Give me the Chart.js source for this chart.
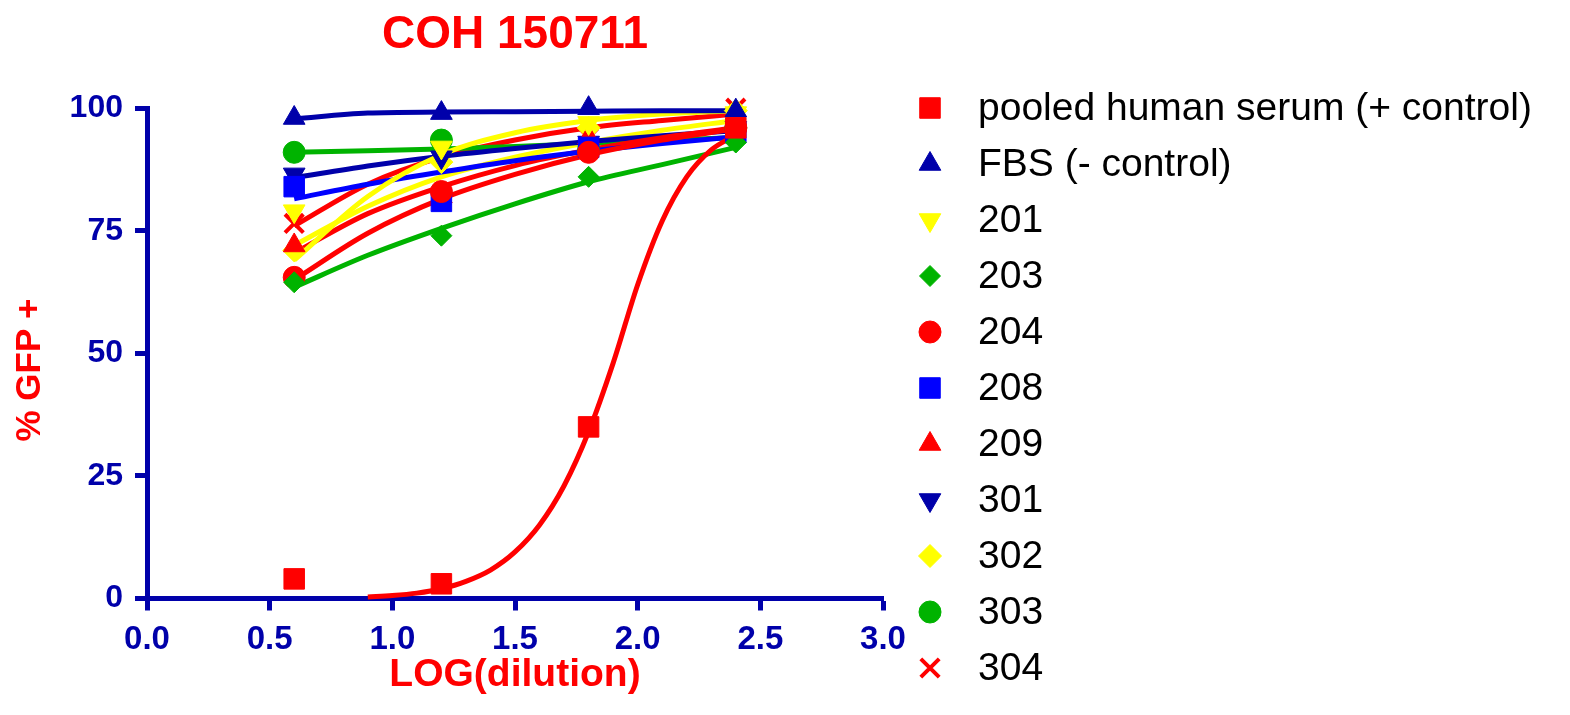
<!DOCTYPE html>
<html>
<head>
<meta charset="utf-8">
<title>COH 150711</title>
<script src="https://cdn.jsdelivr.net/npm/chart.js"></script>
<style>
  html, body { margin: 0; padding: 0; background: #fff; }
  #wrap { width: 1570px; height: 715px; position: relative; }
</style>
</head>
<body>
<div id="wrap"><canvas id="gfpChart"></canvas></div>
<script>
// LOG(dilution) where samples were measured
const dilutions = [0.6, 1.2, 1.8, 2.4];

// Measured % GFP+ per sample
const pooledSerum = [4, 3, 35, 96];
const fbs = [98, 99, 100, 99.5];
const s201 = [79, 92, 97, 99];
const s203 = [64.5, 74, 86, 93];
const s204 = [65.5, 83, 91, 96];
const s208 = [84, 81, 92, 95];
const s209 = [72, 82, 94, 97];
const s301 = [86.5, 90, 93, 96];
const s302 = [71, 89, 96, 99.5];
const s303 = [91, 93.5, 91.5, 96];
const s304 = [76.5, 82, 94, 100];

// Fitted curves
const fitX = [0.6, 0.9, 1.2, 1.5, 1.8, 2.1, 2.4];
const fbsFit = [97.8, 99, 99.2, 99.3, 99.4, 99.5, 99.5];
const s201Fit = [69, 82, 90.5, 95, 97.5, 98.8, 99.5];
const s203Fit = [63.5, 70, 75.5, 80.5, 85, 88.5, 92];
const s204Fit = [65, 74.5, 81.5, 86.5, 90.5, 93.5, 95.8];
const s208Fit = [81.5, 84.5, 87, 89.3, 91.2, 92.8, 94.2];
const s209Fit = [70.5, 78.5, 84, 88.3, 91.5, 94, 96];
const s301Fit = [85.8, 88.2, 90.2, 91.8, 93.2, 94.4, 95.4];
const s302Fit = [72, 80, 86, 90, 93, 95.5, 97.5];
const s303Fit = [91, 91.3, 91.7, 92.2, 92.8, 93.4, 94];
const s304Fit = [76, 84.5, 90, 93.5, 96, 97.5, 98.8];

const pooledFitX = [0.9, 1.0, 1.1, 1.2, 1.3, 1.4, 1.5, 1.6, 1.7, 1.8, 1.9, 2.0, 2.1, 2.2, 2.3, 2.4];
const pooledFit = [0.3, 0.6, 1.1, 2, 3.5, 5.8, 9.5, 15, 23, 34, 48, 64, 77, 86, 91.5, 94.5];

const xTicks = [0, 0.5, 1.0, 1.5, 2.0, 2.5, 3.0];
const yTicks = [0, 25, 50, 75, 100];

const RED = '#ff0000', NAVY = '#0000aa', BLUE = '#0000ff', YELLOW = '#ffff00', GREEN = '#00b300';
const FONT = '"Liberation Sans", Arial, sans-serif';

const series = [
    { label: 'pooled human serum (+ control)', y: pooledSerum, fx: pooledFitX, fy: pooledFit, color: RED, style: 'rect', r: 14.5 },
    { label: 'FBS (- control)', y: fbs, fx: fitX, fy: fbsFit, color: NAVY, style: 'triangle', r: 12.5 },
    { label: '201', y: s201, fx: fitX, fy: s201Fit, color: YELLOW, style: 'triangle', r: 12.5, rot: 180 },
    { label: '203', y: s203, fx: fitX, fy: s203Fit, color: GREEN, style: 'rectRot', r: 10.5 },
    { label: '204', y: s204, fx: fitX, fy: s204Fit, color: RED, style: 'circle', r: 11 },
    { label: '208', y: s208, fx: fitX, fy: s208Fit, color: BLUE, style: 'rect', r: 14.5 },
    { label: '209', y: s209, fx: fitX, fy: s209Fit, color: RED, style: 'triangle', r: 12.5 },
    { label: '301', y: s301, fx: fitX, fy: s301Fit, color: NAVY, style: 'triangle', r: 12.5, rot: 180 },
    { label: '302', y: s302, fx: fitX, fy: s302Fit, color: YELLOW, style: 'rectRot', r: 11.5 },
    { label: '303', y: s303, fx: fitX, fy: s303Fit, color: GREEN, style: 'circle', r: 11 },
    { label: '304', y: s304, fx: fitX, fy: s304Fit, color: RED, style: 'crossRot', r: 13 }
];

const toPoints = (xs, ys) => xs.map((x, i) => ({ x: x, y: ys[i] }));

const pointSets = series.map(s => ({
    label: s.label,
    data: toPoints(dilutions, s.y),
    showLine: false,
    pointStyle: s.style,
    pointRadius: s.r,
    pointHoverRadius: s.r,
    pointRotation: s.rot || 0,
    backgroundColor: s.color,
    borderColor: s.color,
    pointBorderWidth: s.style === 'crossRot' ? 4 : 1,
    clip: false
}));

const fitSets = series.map(s => ({
    label: s.label + ' fit',
    data: toPoints(s.fx, s.fy),
    showLine: true,
    pointRadius: 0,
    borderColor: s.color,
    backgroundColor: s.color,
    borderWidth: 5,
    tension: 0.4,
    cubicInterpolationMode: 'monotone',
    clip: false
}));

// legend and y title drawn by hand so the spacing matches the original
const sideLegend = {
    id: 'sideLegend',
    afterDraw(chart) {
        const ctx = chart.ctx;
        ctx.save();
        series.forEach((s, i) => {
            const y = 108 + i * 56;
            ctx.fillStyle = s.color;
            ctx.strokeStyle = s.color;
            ctx.lineWidth = s.style === 'crossRot' ? 4 : 1;
            Chart.helpers.drawPoint(ctx, {
                pointStyle: s.style,
                radius: s.r,
                rotation: s.rot || 0,
                borderWidth: s.style === 'crossRot' ? 4 : 1
            }, 930, y);
            ctx.fillStyle = '#000';
            ctx.font = '39px ' + FONT;
            ctx.textBaseline = 'middle';
            ctx.textAlign = 'left';
            ctx.fillText(s.label, 978, y + 1);
        });

        ctx.translate(30, 370);
        ctx.rotate(-Math.PI / 2);
        ctx.fillStyle = RED;
        ctx.font = 'bold 35px ' + FONT;
        ctx.textAlign = 'center';
        ctx.textBaseline = 'middle';
        ctx.fillText('% GFP +', 0, 0);
        ctx.restore();
    }
};

const ctx = document.getElementById('gfpChart').getContext('2d');
new Chart(ctx, {
    type: 'scatter',
    data: { datasets: pointSets.concat(fitSets) },
    options: {
        responsive: true,
        maintainAspectRatio: false,
        animation: false,
        layout: { padding: { left: 0, right: 687, top: 0, bottom: 0 } },
        plugins: {
            legend: { display: false },
            tooltip: { enabled: false },
            title: {
                display: true,
                text: 'COH 150711',
                color: RED,
                fullSize: false,
                font: { family: FONT, size: 46, weight: 'bold' },
                padding: { top: 8, bottom: 45 }
            }
        },
        scales: {
            x: {
                type: 'linear',
                min: 0,
                max: 3,
                afterBuildTicks: (scale) => { scale.ticks = xTicks.map(v => ({ value: v })); },
                afterFit: (scale) => { scale.height = 116.5; },
                border: { display: true, color: NAVY, width: 5 },
                grid: { drawOnChartArea: false, drawTicks: true, tickLength: 12, tickWidth: 5, tickColor: NAVY },
                ticks: {
                    color: NAVY,
                    padding: 10,
                    font: { family: FONT, size: 33, weight: 'bold' },
                    callback: (v) => Number(v).toFixed(1)
                },
                title: {
                    display: true,
                    text: 'LOG(dilution)',
                    color: RED,
                    font: { family: FONT, size: 39, weight: 'bold' },
                    padding: { top: 0, bottom: 16 }
                }
            },
            y: {
                type: 'linear',
                min: 0,
                max: 100,
                afterBuildTicks: (scale) => { scale.ticks = yTicks.map(v => ({ value: v })); },
                afterFit: (scale) => { scale.width = 147; },
                border: { display: true, color: NAVY, width: 5 },
                grid: { drawOnChartArea: false, drawTicks: true, tickLength: 12, tickWidth: 5, tickColor: NAVY },
                ticks: {
                    color: NAVY,
                    padding: 12,
                    font: { family: FONT, size: 32, weight: 'bold' }
                },
                title: { display: false }
            }
        }
    },
    plugins: [sideLegend]
});
</script>
</body>
</html>
